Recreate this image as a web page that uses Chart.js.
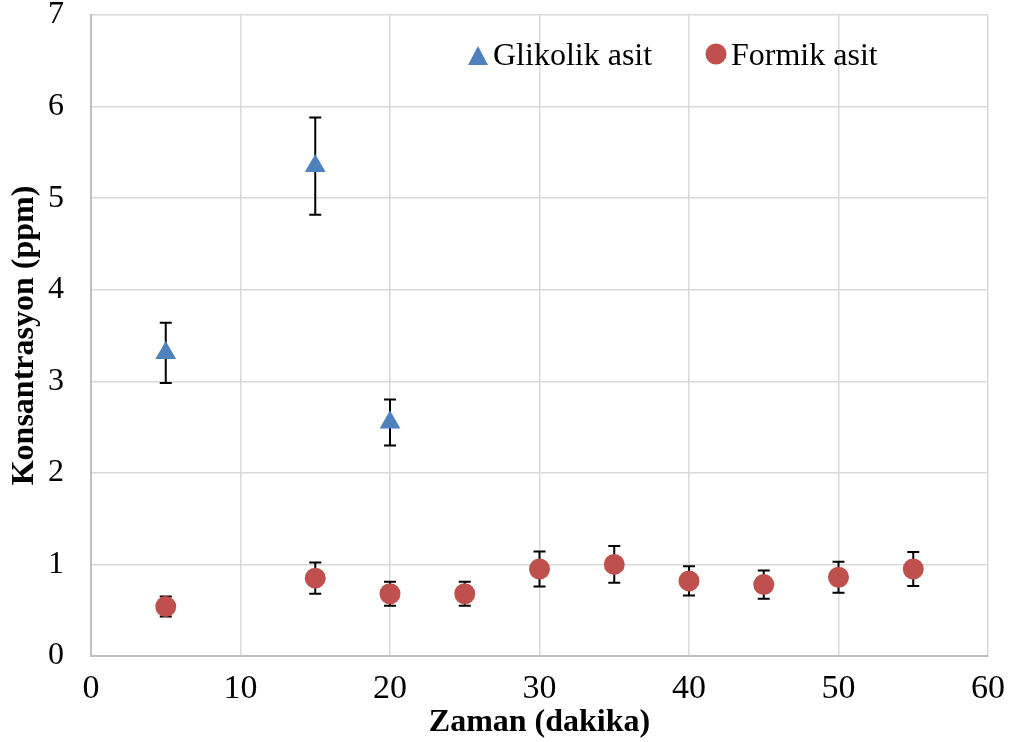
<!DOCTYPE html>
<html>
<head>
<meta charset="utf-8">
<script src="https://cdn.jsdelivr.net/npm/chart.js@4"></script>
<style>
  html, body { margin: 0; padding: 0; background: #fff; }
  #wrap { width: 1013px; height: 742px; }
</style>
</head>
<body>
<div id="wrap"><canvas id="grafik"></canvas></div>
<script>
// Veriler
const zamanGlikolik = [5, 15, 20];
const glikolik = [3.31, 5.35, 2.55];
const glikolikHata = [0.33, 0.53, 0.25];

const zamanFormik = [5, 15, 20, 25, 30, 35, 40, 45, 50, 55];
const formik = [0.54, 0.85, 0.68, 0.68, 0.95, 1.00, 0.82, 0.78, 0.86, 0.95];
const formikHata = [0.11, 0.17, 0.13, 0.13, 0.19, 0.20, 0.16, 0.155, 0.17, 0.185];

const xTikler = [0, 10, 20, 30, 40, 50, 60];
const yTikler = [0, 1, 2, 3, 4, 5, 6, 7];

const MAVI = '#4F81BD';
const KIRMIZI = '#C0504D';
const FONT = '"Liberation Serif", "Times New Roman", serif';

function noktalar(xs, ys, hata) {
    return xs.map((x, i) => ({ x: x, y: ys[i], e: hata[i] }));
}

// Hata çubukları (noktaların altında)
const hataCubugu = {
    id: 'hataCubugu',
    beforeDatasetsDraw(chart) {
        const ctx = chart.ctx;
        const xs = chart.scales.x, ys = chart.scales.y;
        ctx.save();
        ctx.strokeStyle = '#000';
        ctx.lineWidth = 2;
        chart.data.datasets.forEach(ds => {
            ds.data.forEach(p => {
                const px = xs.getPixelForValue(p.x);
                const ust = ys.getPixelForValue(p.y + p.e);
                const alt = ys.getPixelForValue(p.y - p.e);
                ctx.beginPath();
                ctx.moveTo(px, ust); ctx.lineTo(px, alt);
                ctx.moveTo(px - 6, ust); ctx.lineTo(px + 6, ust);
                ctx.moveTo(px - 6, alt); ctx.lineTo(px + 6, alt);
                ctx.stroke();
            });
        });
        ctx.restore();
    }
};

// Grafik içi lejant
const lejant = {
    id: 'lejant',
    afterDraw(chart) {
        const ctx = chart.ctx;
        ctx.save();
        ctx.font = '32px ' + FONT;
        ctx.textBaseline = 'alphabetic';
        const y = 65;
        // Glikolik asit
        ctx.fillStyle = MAVI;
        ctx.beginPath();
        ctx.moveTo(478, 46);
        ctx.lineTo(488, 65);
        ctx.lineTo(468, 65);
        ctx.closePath();
        ctx.fill();
        ctx.fillStyle = '#000';
        ctx.fillText(chart.data.datasets[0].label, 493, y);
        // Formik asit
        ctx.fillStyle = KIRMIZI;
        ctx.beginPath();
        ctx.arc(716, 54, 10.5, 0, Math.PI * 2);
        ctx.fill();
        ctx.fillStyle = '#000';
        ctx.fillText(chart.data.datasets[1].label, 731, y);
        ctx.restore();
    }
};

new Chart(document.getElementById('grafik'), {
    type: 'scatter',
    data: {
        datasets: [
            {
                label: 'Glikolik asit',
                data: noktalar(zamanGlikolik, glikolik, glikolikHata),
                pointStyle: 'triangle',
                pointRadius: 12,
                pointHoverRadius: 12,
                backgroundColor: MAVI,
                borderColor: MAVI,
                borderWidth: 0
            },
            {
                label: 'Formik asit',
                data: noktalar(zamanFormik, formik, formikHata),
                pointStyle: 'circle',
                pointRadius: 10.5,
                pointHoverRadius: 10.5,
                backgroundColor: KIRMIZI,
                borderColor: KIRMIZI,
                borderWidth: 0
            }
        ]
    },
    options: {
        responsive: true,
        maintainAspectRatio: false,
        animation: false,
        layout: { padding: { top: 15, right: 25, left: 0, bottom: 0 } },
        plugins: {
            legend: { display: false },
            tooltip: { enabled: false }
        },
        scales: {
            x: {
                type: 'linear',
                min: 0, max: 60,
                afterBuildTicks: ax => { ax.ticks = xTikler.map(v => ({ value: v })); },
                afterFit: ax => { ax.height = 86; ax.paddingLeft = 0; ax.paddingRight = 0; },
                grid: { color: '#D9D9D9', lineWidth: 1.5, drawTicks: false },
                border: { color: '#BFBFBF', width: 2 },
                ticks: { color: '#000', font: { family: FONT, size: 34, lineHeight: 1 }, padding: 16, maxRotation: 0 },
                title: {
                    display: true, text: 'Zaman (dakika)', color: '#000',
                    font: { family: FONT, size: 32, weight: 'bold', lineHeight: 1 }, padding: { top: 0, bottom: 3 }
                }
            },
            y: {
                type: 'linear',
                min: 0, max: 7,
                afterBuildTicks: ax => { ax.ticks = yTikler.map(v => ({ value: v })); },
                afterFit: ax => { ax.width = 91; ax.paddingTop = 0; ax.paddingBottom = 0; },
                grid: { color: '#D9D9D9', lineWidth: 1.5, drawTicks: false },
                border: { color: '#BFBFBF', width: 2 },
                ticks: { color: '#000', font: { family: FONT, size: 32, lineHeight: 0.9 }, padding: 27 },
                title: {
                    display: true, text: 'Konsantrasyon (ppm)', color: '#000',
                    font: { family: FONT, size: 32, weight: 'bold', lineHeight: 1 }, padding: { top: 9, bottom: 0 }
                }
            }
        }
    },
    plugins: [hataCubugu, lejant]
});
</script>
</body>
</html>
